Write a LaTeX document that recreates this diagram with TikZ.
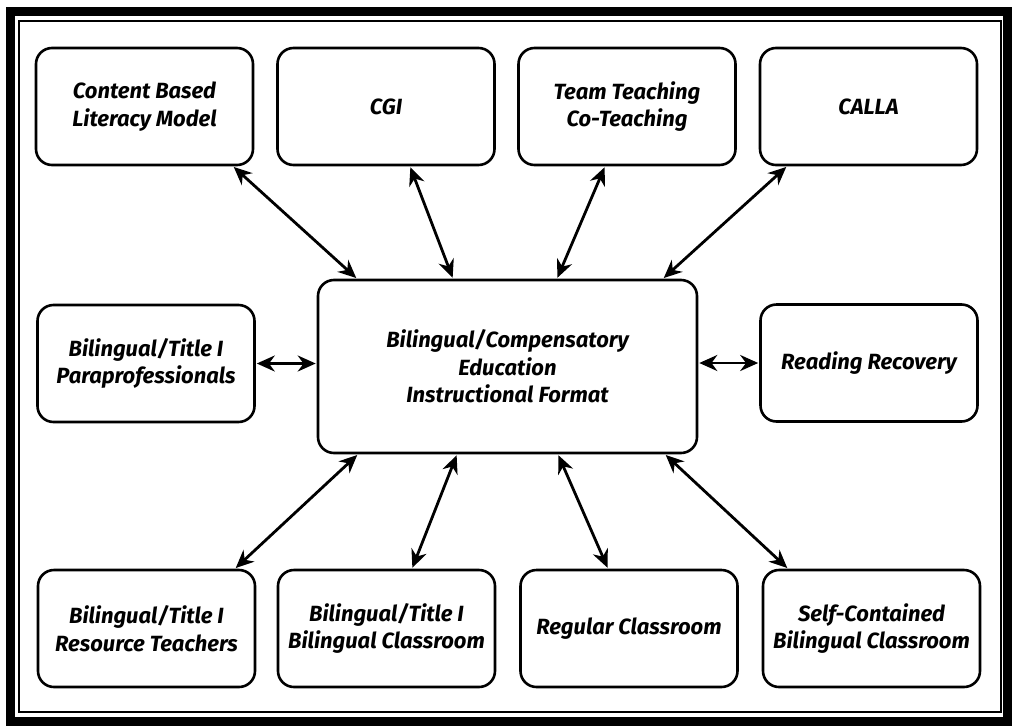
\documentclass[tikz,border=0pt]{standalone}
\usepackage{fontspec}
\setmainfont{Fira Sans}
\usetikzlibrary{arrows.meta}
\begin{document}
\begin{tikzpicture}[x=1pt,y=-1pt,
  box/.style={draw, line width=2.6pt, rounded corners=16pt, minimum width=217pt, minimum height=117pt, align=center, inner sep=2pt, font=\fontsize{22}{27.5}\selectfont\bfseries\itshape},
  bigbox/.style={box, minimum width=379pt, minimum height=173pt},
  dbl/.style={line width=2.8pt, {Stealth[length=18pt,width=16pt]}-{Stealth[length=18pt,width=16pt]}, shorten <=1pt, shorten >=1pt}]
\useasboundingbox (0,0) rectangle (1012,726);
\draw[line width=9pt] (10,11) rectangle (1007,721);
\draw[line width=1.4pt] (19,21) rectangle (1001,712);
% top row
\node[box] (cbl) at (144.5,106.5) {Content Based\\Literacy Model};
\node[box] (cgi) at (386,106.5) {CGI};
\node[box] (team) at (627,106.5) {Team Teaching\\Co-Teaching};
\node[box] (calla) at (868.5,106.5) {CALLA};
% middle row
\node[box] (para) at (146,363.5) {Bilingual/Title I\\Paraprofessionals};
\node[bigbox] (ctr) at (507.5,366.5) {Bilingual/Compensatory\\Education\\Instructional Format};
\node[box] (read) at (869,363) {Reading Recovery};
% bottom row
\node[box] (res) at (146.5,628.5) {Bilingual/Title I\\Resource Teachers};
\node[box] (bcl) at (386.5,628.5) {Bilingual/Title I\\Bilingual Classroom};
\node[box] (reg) at (629,628.5) {Regular Classroom};
\node[box] (self) at (871.5,628.5) {Self-Contained\\Bilingual Classroom};
% connectors
\draw[dbl] ([xshift=88.5pt]cbl.south) -- ([xshift=-150.5pt]ctr.north);
\draw[dbl] ([xshift=24pt]cgi.south) -- ([xshift=-54.5pt]ctr.north);
\draw[dbl] ([xshift=-22pt]team.south) -- ([xshift=49.5pt]ctr.north);
\draw[dbl] ([xshift=-81.5pt]calla.south) -- ([xshift=155.5pt]ctr.north);
\draw[dbl] (para.east) -- (para.east -| ctr.west);
\draw[dbl] (read.west -| ctr.east) -- (read.west);
\draw[dbl] ([xshift=-149.5pt]ctr.south) -- ([xshift=88.5pt]res.north);
\draw[dbl] ([xshift=-50.5pt]ctr.south) -- ([xshift=25.5pt]bcl.north);
\draw[dbl] ([xshift=50.5pt]ctr.south) -- ([xshift=-21pt]reg.north);
\draw[dbl] ([xshift=157.5pt]ctr.south) -- ([xshift=-83.5pt]self.north);
\end{tikzpicture}
\end{document}
